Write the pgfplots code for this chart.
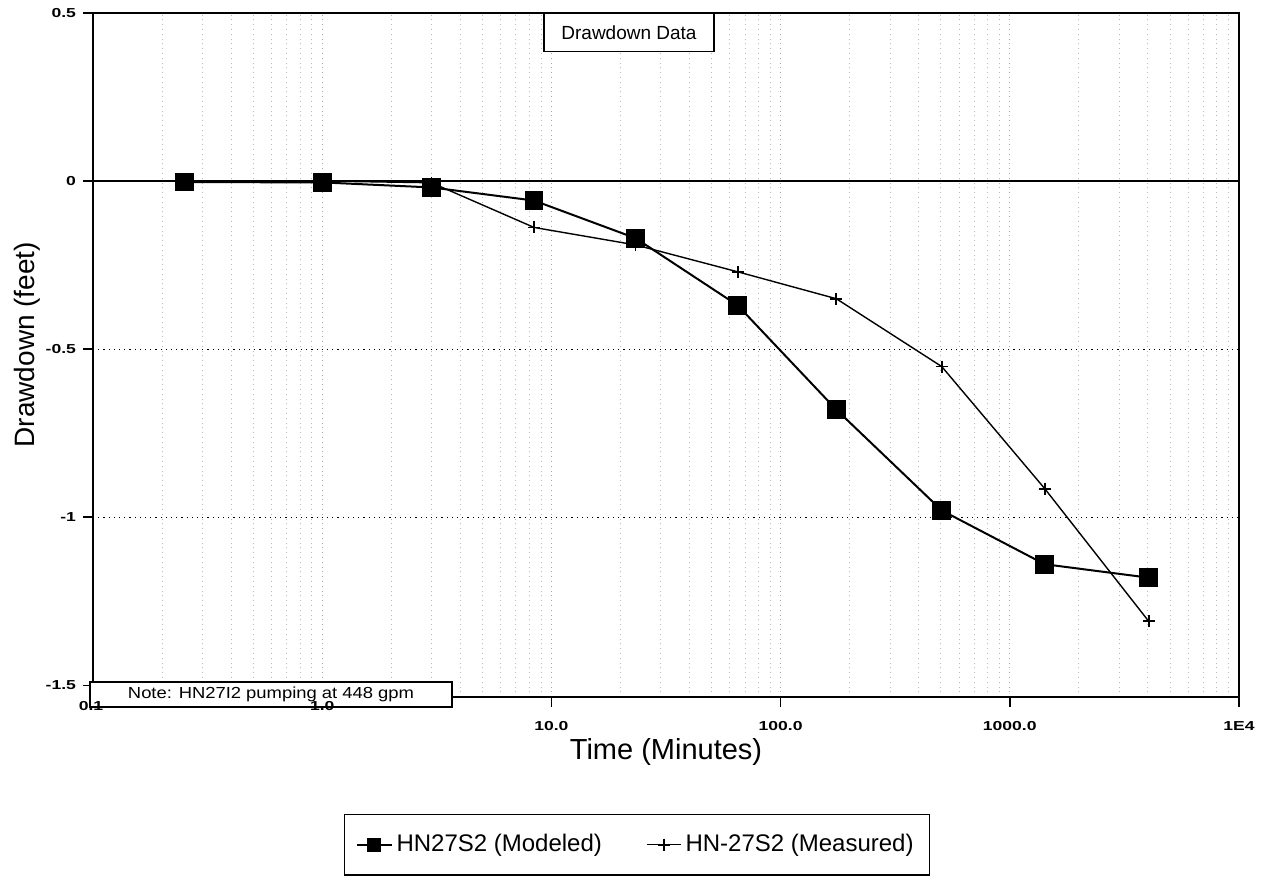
\documentclass[border=0pt]{standalone}
\usepackage{fontspec}
\setmainfont{Liberation Sans}
\newfontfamily\tickfont{Liberation Sans}[FakeStretch=1.35]
\newfontfamily\widefont{Liberation Sans}[FakeStretch=1.15]
\usepackage{pgfplots}
\pgfplotsset{compat=1.18}
\begin{document}
\begin{tikzpicture}
\useasboundingbox (-46.5pt,-95.5pt) rectangle (586pt,348.5pt);
\begin{axis}[
  at={(0,0)}, anchor=south west,
  scale only axis, width=573pt, height=342pt,
  xmode=log, xmin=0.1, xmax=10000, ymin=-1.535, ymax=0.5,
  xtick={0.1,1,10,100,1000,10000},
  xticklabels={,,10.0,100.0,1000.0,1E4},
  ytick={-1.5,-1,-0.5,0,0.5},
  yticklabels={-1.5,-1,-0.5,0,0.5},
  xtick pos=left, ytick pos=left,
  tick align=outside, major tick length=5pt, minor tick length=0pt,
  tick style={black, line width=0.7pt},
  axis line style={line width=1pt},
  xmajorgrids, xminorgrids,
  major grid style={dotted, black!35, line width=0.4pt},
  minor grid style={dotted, black!28, line width=0.4pt},
  xticklabel style={font=\tickfont\bfseries\fontsize{6.5}{7}\selectfont, yshift=-3.5pt},
  yticklabel style={font=\tickfont\bfseries\fontsize{6.5}{7}\selectfont},
  xlabel={Time (Minutes)},
  xlabel style={font=\fontsize{14.5}{16}\selectfont, at={(axis description cs:0.5,-0.08)}, anchor=center},
  ylabel={Drawdown (feet)},
  ylabel style={font=\fontsize{14}{16}\selectfont, at={(axis description cs:-0.0576,0.515)}, anchor=center},
  legend columns=2,
  legend style={at={(axis description cs:0.4747,-0.216)}, anchor=center,
    draw=black, line width=0.8pt, font=\fontsize{12}{14}\selectfont,
    inner xsep=6pt, inner ysep=8pt,
    /tikz/every even column/.append style={column sep=20pt}},
]
% horizontal reference lines
\draw[dotted, black, line width=0.6pt] (axis cs:0.1,-0.5) -- (axis cs:10000,-0.5);
\draw[dotted, black, line width=0.6pt] (axis cs:0.1,-1) -- (axis cs:10000,-1);
\draw[black, line width=1.1pt] (axis cs:0.1,0) -- (axis cs:10000,0);

\addplot[black, line width=1pt, mark=square*, mark size=4.2pt,
  mark options={solid, rounded corners=0.8pt},
  legend image post style={mark size=3pt}]
  coordinates {(0.25,-0.003) (1,-0.004) (3,-0.019) (8.4,-0.058) (23.3,-0.17)
               (65,-0.37) (175,-0.68) (505,-0.98) (1420,-1.14) (4040,-1.18)};
\addlegendentry{HN27S2 (Modeled)}

\addplot[black, line width=0.7pt, mark=+, mark size=3pt,
  mark options={solid, line width=0.9pt}]
  coordinates {(0.25,0) (1,0) (3,-0.005) (8.4,-0.138) (23.3,-0.19)
               (65,-0.27) (175,-0.35) (505,-0.552) (1420,-0.915) (4040,-1.31)};
\addlegendentry{HN-27S2 (Measured)}

\node[draw, fill=white, line width=0.75pt, minimum width=85pt, minimum height=19pt,
  anchor=north, font=\fontsize{9.5}{10}\selectfont]
  at (rel axis cs:0.4677,1.0) {Drawdown Data};
\end{axis}
% note box over the lower-left corner of the plot
\draw[fill=white, line width=0.8pt] (-1.5pt,-5pt) rectangle (179.5pt,7.5pt);
\node[font=\widefont\fontsize{8}{9}\selectfont] at (89pt,1.2pt) {Note: HN27I2 pumping at 448 gpm};
\node[font=\tickfont\bfseries\fontsize{6.5}{7}\selectfont] at (-1pt,-4.5pt) {0.1};
\node[font=\tickfont\bfseries\fontsize{6.5}{7}\selectfont] at (114.6pt,-4.5pt) {1.0};
\end{tikzpicture}
\end{document}
